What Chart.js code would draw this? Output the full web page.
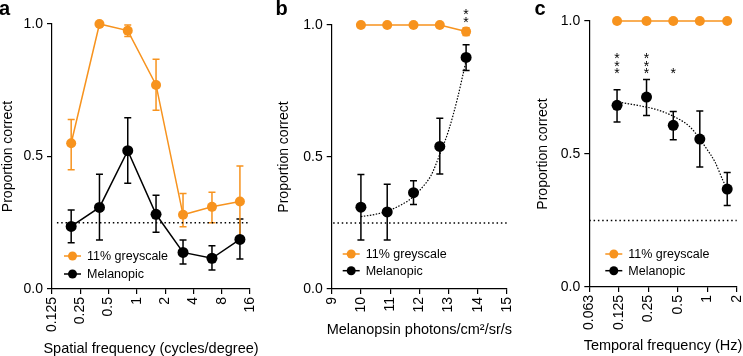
<!DOCTYPE html>
<html>
<head>
<meta charset="utf-8">
<script src="https://cdn.jsdelivr.net/npm/chart.js@4.4.0/dist/chart.umd.min.js"></script>
<style>
  html, body { margin: 0; padding: 0; background: #fff; }
  #wrap { position: relative; width: 743px; height: 356px; overflow: hidden;
          font-family: "Liberation Sans", Arial, Helvetica, sans-serif; }
  .panel { position: absolute; top: 0; }
  .tag { position: absolute; top: -2px; font-weight: bold; font-size: 20px; line-height: 1; color: #000; }
</style>
</head>
<body>
<div id="wrap">
  <canvas id="chart-a" class="panel" style="left:0px" width="268" height="356"></canvas>
  <canvas id="chart-b" class="panel" style="left:276px" width="241" height="356"></canvas>
  <canvas id="chart-c" class="panel" style="left:535px" width="212" height="356"></canvas>
  <div class="tag" style="left:-1px">a</div>
  <div class="tag" style="left:275.5px">b</div>
  <div class="tag" style="left:534.5px">c</div>
</div>
<script>
// a: spatial frequency
const spatialFreq = [0.2, 0.4, 0.8, 1.6, 3.1, 6.3, 12.5];
const greyA    = [0.55, 1.0, 0.975, 0.77, 0.28, 0.31, 0.33];
const greyALo  = [0.45, 1.0, 0.953, 0.675, 0.235, 0.25, 0.197];
const greyAHi  = [0.64, 1.0, 0.996, 0.867, 0.36, 0.365, 0.464];
const melA     = [0.236, 0.308, 0.522, 0.282, 0.138, 0.116, 0.187];
const melALo   = [0.175, 0.185, 0.399, 0.214, 0.094, 0.072, 0.113];
const melAHi   = [0.298, 0.433, 0.646, 0.354, 0.185, 0.163, 0.264];
const ticksA   = [0.125, 0.25, 0.5, 1, 2, 4, 8, 16];
const labelsA  = ['0.125', '0.25', '0.5', '1', '2', '4', '8', '16'];
const chanceAX = [0.141, 16];

// b: melanopsin irradiance (log photons)
const irradiance = [10.0, 10.9, 11.8, 12.7, 13.6];
const greyB    = [1, 1, 1, 1, 0.975];
const greyBLo  = [1, 1, 1, 1, 0.96];
const greyBHi  = [1, 1, 1, 1, 0.99];
const melB     = [0.31, 0.292, 0.365, 0.54, 0.877];
const melBLo   = [0.186, 0.186, 0.32, 0.436, 0.828];
const melBHi   = [0.434, 0.397, 0.41, 0.647, 0.925];
const fitBX    = [10.0, 10.5, 10.9, 11.4, 11.8, 12.1, 12.4, 12.7, 13.0, 13.3, 13.6];
const fitBY    = [0.274, 0.283, 0.295, 0.32, 0.35, 0.385, 0.43, 0.51, 0.6, 0.72, 0.865];
const ticksB   = [9, 10, 11, 12, 13, 14, 15];
const labelsB  = ['9', '10', '11', '12', '13', '14', '15'];
const sigB     = ['', '', '', '', '**'];
const chanceBX = [9.05, 15];

// c: temporal frequency
const temporalFreq = [0.12, 0.24, 0.45, 0.84, 1.6];
const greyC    = [1, 1, 1, 1, 1];
const melC     = [0.683, 0.714, 0.608, 0.556, 0.368];
const melCLo   = [0.62, 0.645, 0.554, 0.451, 0.306];
const melCHi   = [0.742, 0.78, 0.66, 0.662, 0.43];
const fitCX    = [0.125, 0.139, 0.2, 0.304, 0.45, 0.666, 0.985, 1.2, 1.45, 1.6];
const fitCY    = [0.695, 0.692, 0.682, 0.667, 0.642, 0.602, 0.52, 0.47, 0.40, 0.37];
const ticksC   = [0.0625, 0.125, 0.25, 0.5, 1, 2];
const labelsC  = ['0.063', '0.125', '0.25', '0.5', '1', '2'];
const sigC     = ['***', '***', '*', '', ''];
const chanceCX = [0.0625, 2];

const chanceY = 0.25;
const seriesNames = ['11% greyscale', 'Melanopic'];

const FONT = '"Liberation Sans", Arial, Helvetica, sans-serif';
const ORANGE = '#F7931E';
const BLACK = '#000000';
Chart.defaults.font.family = FONT;
Chart.defaults.color = '#000';

const pts = (xs, ys) => xs.map((x, i) => ({ x, y: ys[i] }));

// vertical error bars with caps, drawn under the markers
const errorBars = {
  id: 'errorBars',
  beforeDatasetsDraw(chart) {
    const ctx = chart.ctx, ys = chart.scales.y;
    chart.data.datasets.forEach((ds, i) => {
      if (!ds.errLo) return;
      const meta = chart.getDatasetMeta(i);
      ctx.save();
      ctx.strokeStyle = ds.borderColor;
      ctx.lineWidth = 1.5;
      meta.data.forEach((p, j) => {
        const top = ys.getPixelForValue(ds.errHi[j]);
        const bot = ys.getPixelForValue(ds.errLo[j]);
        if (bot - top < 1) return;
        ctx.beginPath();
        ctx.moveTo(p.x, top); ctx.lineTo(p.x, bot);
        ctx.moveTo(p.x - 3.5, top); ctx.lineTo(p.x + 3.5, top);
        ctx.moveTo(p.x - 3.5, bot); ctx.lineTo(p.x + 3.5, bot);
        ctx.stroke();
      });
      ctx.restore();
    });
  }
};

// significance asterisks, stacked vertically above a point
const stars = {
  id: 'stars',
  afterDatasetsDraw(chart, args, o) {
    if (!o.marks) return;
    const ctx = chart.ctx;
    const base = chart.scales.y.getPixelForValue(o.base);
    ctx.save();
    ctx.fillStyle = '#000';
    ctx.font = `14px ${FONT}`;
    ctx.textAlign = 'center';
    ctx.textBaseline = 'alphabetic';
    o.marks.forEach((m, i) => {
      const x = chart.scales.x.getPixelForValue(o.at[i]);
      for (let k = 0; k < m.length; k++) ctx.fillText('*', x, base - k * 7.5 + 8);
    });
    ctx.restore();
  }
};

// small legend inside the plot area: line + dot + label
const miniLegend = {
  id: 'miniLegend',
  afterDraw(chart, args, o) {
    const ctx = chart.ctx, a = chart.chartArea;
    ctx.save();
    o.colors.forEach((c, i) => {
      const x = a.left + o.left, y = a.bottom - o.up + i * o.gap;
      ctx.strokeStyle = c; ctx.fillStyle = c; ctx.lineWidth = 1.5;
      ctx.beginPath(); ctx.moveTo(x, y); ctx.lineTo(x + 17, y); ctx.stroke();
      ctx.beginPath(); ctx.arc(x + 8.5, y, 4.5, 0, Math.PI * 2); ctx.fill();
      ctx.fillStyle = '#000';
      ctx.font = `12.5px ${FONT}`;
      ctx.textBaseline = 'middle';
      ctx.fillText(seriesNames[i], x + 23, y + 0.5);
    });
    ctx.restore();
  }
};

// x-axis title drawn by hand: the scale title would be squeezed to the plot width
const xTitle = {
  id: 'xTitle',
  afterDraw(chart, args, o) {
    const ctx = chart.ctx, a = chart.chartArea;
    ctx.save();
    ctx.fillStyle = '#000';
    ctx.font = `14.5px ${FONT}`;
    ctx.textAlign = 'center';
    ctx.textBaseline = 'alphabetic';
    ctx.fillText(o.text, (a.left + a.right) / 2, o.baseline);
    ctx.restore();
  }
};

const axisGrid = { drawOnChartArea: false, drawTicks: true, tickLength: 5, color: '#000', lineWidth: 1.2 };
const axisBorder = { display: true, color: '#000', width: 1.2 };

function yScale(width) {
  return {
    type: 'linear', min: 0, max: 1,
    afterFit: s => { s.width = width; },
    ticks: { stepSize: 0.5, callback: v => v.toFixed(1), font: { size: 14 }, color: '#000', padding: 4 },
    grid: axisGrid, border: axisBorder,
    title: { display: true, text: 'Proportion correct', font: { size: 14 }, color: '#000', padding: 0 }
  };
}

function xScale(type, min, max, ticks, labels, height) {
  return {
    type, min, max,
    afterFit: s => { s.height = height; s.paddingLeft = 0; s.paddingRight = 0; },
    afterBuildTicks: s => { s.ticks = ticks.map(v => ({ value: v })); },
    ticks: { autoSkip: false, minRotation: 90, maxRotation: 90, font: { size: 14 }, color: '#000',
             padding: 3, callback: (v, i) => labels[i] },
    grid: axisGrid, border: axisBorder
  };
}

function pointSet(label, color, xs, ys, lo, hi, showLine, r) {
  return {
    label, data: pts(xs, ys), borderColor: color, backgroundColor: color,
    pointBackgroundColor: color, pointBorderWidth: 0, pointRadius: r,
    borderWidth: 1.5, showLine, clip: false, errLo: lo, errHi: hi
  };
}

function dotted(xs, ys, dash, width) {
  return {
    data: pts(xs, ys), borderColor: '#000', borderWidth: width, borderDash: dash,
    pointRadius: 0, cubicInterpolationMode: 'monotone', clip: false
  };
}

function panel(id, cfg) {
  new Chart(document.getElementById(id), {
    type: 'line',
    data: { datasets: cfg.datasets },
    options: {
      responsive: false, animation: false, events: [],
      layout: { padding: cfg.padding },
      scales: { x: cfg.x, y: cfg.y },
      plugins: {
        legend: { display: false }, tooltip: { enabled: false },
        miniLegend: Object.assign({ colors: [ORANGE, BLACK] }, cfg.legend),
        stars: cfg.stars || {},
        xTitle: cfg.title
      }
    },
    plugins: [errorBars, stars, miniLegend, xTitle]
  });
}

panel('chart-a', {
  padding: { left: 0, right: 18, top: 24, bottom: 0 },
  x: xScale('logarithmic', 0.125, 16, ticksA, labelsA, 67),
  y: yScale(52),
  title: { text: 'Spatial frequency (cycles/degree)', baseline: 353.3 },
  legend: { left: 12, up: 33, gap: 18 },
  datasets: [
    pointSet('Melanopic', BLACK, spatialFreq, melA, melALo, melAHi, true, 5.5),
    pointSet('11% greyscale', ORANGE, spatialFreq, greyA, greyALo, greyAHi, true, 5),
    dotted(chanceAX, [chanceY, chanceY], [1.5, 2.8], 1.5)
  ]
});

panel('chart-b', {
  padding: { left: 0, right: 10, top: 25, bottom: 0 },
  x: xScale('linear', 9, 15, ticksB, labelsB, 67),
  y: yScale(55.7),
  title: { text: 'Melanopsin photons/cm²/sr/s', baseline: 334.3 },
  legend: { left: 11, up: 35, gap: 16.7 },
  stars: { marks: sigB, at: irradiance, base: 1.023 },
  datasets: [
    pointSet('Melanopic', BLACK, irradiance, melB, melBLo, melBHi, false, 5.5),
    pointSet('11% greyscale', ORANGE, irradiance, greyB, greyBLo, greyBHi, true, 5),
    dotted(fitBX, fitBY, [1.5, 1.5], 1.2),
    dotted(chanceBX, [chanceY, chanceY], [1.5, 2.8], 1.5)
  ]
});

panel('chart-c', {
  padding: { left: 0, right: 10.3, top: 21, bottom: 0 },
  x: xScale('logarithmic', 0.0625, 2, ticksC, labelsC, 69),
  y: yScale(54.3),
  title: { text: 'Temporal frequency (Hz)', baseline: 350 },
  legend: { left: 16, up: 33, gap: 16.7 },
  stars: { marks: sigC, at: temporalFreq, base: 0.815 },
  datasets: [
    pointSet('Melanopic', BLACK, temporalFreq, melC, melCLo, melCHi, false, 5.5),
    pointSet('11% greyscale', ORANGE, temporalFreq, greyC, greyC, greyC, true, 5),
    dotted(fitCX, fitCY, [1.5, 1.5], 1.2),
    dotted(chanceCX, [chanceY, chanceY], [1.5, 2.8], 1.5)
  ]
});
</script>
</body>
</html>
